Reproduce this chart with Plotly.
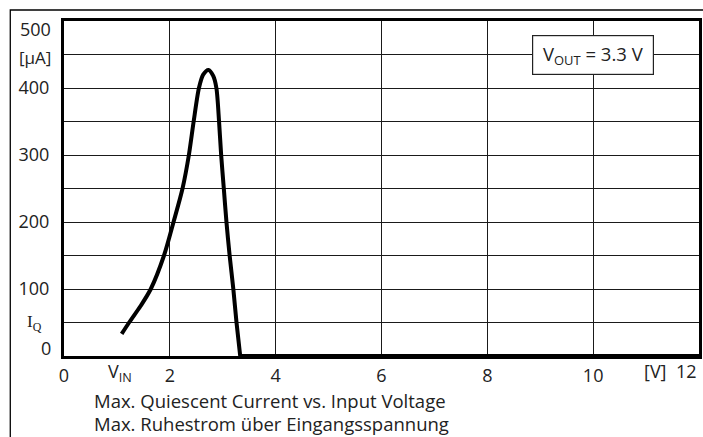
import plotly.graph_objects as go

# Data
curve_v = [1.09, 1.23, 1.45, 1.64, 1.89, 2.07, 2.24, 2.36, 2.45, 2.55, 2.63, 2.73,
           2.82, 2.88, 2.93, 2.97, 3.02, 3.07, 3.13, 3.20, 3.26, 3.33]
curve_i = [33, 50, 75, 100, 150, 200, 250, 300, 350, 400, 420, 427,
           418, 400, 350, 300, 250, 200, 150, 100, 50, 0]
flat_v = [3.33, 12]
flat_i = [0, 0]

x_tickvals = [0, 2, 4, 6, 8, 10]
x_ticktext = ["0", "2", "4", "6", "8", "10"]
y_tickvals = [100, 200, 300, 400]
y_ticktext = ["100", "200", "300", "400"]

FONT = "Open Sans"
TXT = "#222222"
GRID = "#1a1a1a"

fig = go.Figure()
fig.add_trace(go.Scatter(x=curve_v, y=curve_i, mode="lines",
                         line=dict(color="black", width=4, shape="spline", smoothing=0.8),
                         hoverinfo="skip", showlegend=False))
fig.add_trace(go.Scatter(x=flat_v, y=flat_i, mode="lines",
                         line=dict(color="black", width=4),
                         hoverinfo="skip", showlegend=False))

fig.update_layout(
    width=703, height=437, autosize=False,
    margin=dict(l=64, r=1, t=21, b=81),
    paper_bgcolor="white", plot_bgcolor="white",
    font=dict(family=FONT, size=18, color=TXT),
    showlegend=False,
)
fig.update_xaxes(range=[0, 12], tickvals=x_tickvals, ticktext=x_ticktext,
                 showgrid=True, gridcolor=GRID, gridwidth=1.3,
                 showline=True, linecolor="black", linewidth=3, mirror=True,
                 ticks="outside", ticklen=1, tickcolor="rgba(0,0,0,0)",
                 zeroline=False, fixedrange=True,
                 tickfont=dict(family=FONT, size=18, color=TXT))
fig.update_yaxes(range=[0, 500], tickvals=y_tickvals, ticktext=y_ticktext,
                 showgrid=True, gridcolor=GRID, gridwidth=1.3,
                 minor=dict(tick0=0, dtick=50, showgrid=True, gridcolor=GRID, gridwidth=1.3, ticks=""),
                 showline=True, linecolor="black", linewidth=3, mirror=True,
                 ticks="outside", ticklen=8, tickcolor="rgba(0,0,0,0)",
                 zeroline=False, fixedrange=True,
                 tickfont=dict(family=FONT, size=18, color=TXT))

# Outer frame
fig.add_shape(type="rect", xref="paper", yref="paper",
              x0=-0.0846, x1=1.5, y0=-0.5, y1=1.0328,
              line=dict(color="black", width=1.3), layer="below")

ann = []
# y-axis extra labels
ann.append(dict(x=0, y=500, xref="x", yref="y", text="500", showarrow=False,
                xanchor="right", xshift=-11, yshift=-8, font=dict(family=FONT, size=18, color=TXT)))
ann.append(dict(x=0, y=450, xref="x", yref="y", text="[µA]", showarrow=False,
                xanchor="right", xshift=-11, yshift=-3, font=dict(family=FONT, size=17, color=TXT)))
ann.append(dict(x=0, y=50, xref="x", yref="y", text="I<sub>Q</sub>", showarrow=False,
                xanchor="right", xshift=-20, yshift=0, font=dict(family="Liberation Serif", size=17, color=TXT)))
ann.append(dict(x=0, y=0, xref="x", yref="y", text="0", showarrow=False,
                xanchor="right", xshift=-11, yshift=8, font=dict(family=FONT, size=18, color=TXT)))
# x-axis extra labels
ann.append(dict(x=1.05, y=0, xref="x", yref="y", text="V<sub>IN</sub>", showarrow=False,
                yanchor="top", yshift=-1, font=dict(family=FONT, size=18, color=TXT)))
ann.append(dict(x=11.17, y=0, xref="x", yref="y", text="[V]", showarrow=False,
                yanchor="top", yshift=-1, font=dict(family=FONT, size=18, color=TXT)))
ann.append(dict(x=1.0, y=0, xref="paper", yref="y", text="12", showarrow=False,
                xanchor="right", yanchor="top", yshift=-1, font=dict(family=FONT, size=18, color=TXT)))
# caption (two lines)
ann.append(dict(x=(93 - 64) / 638, y=(356 - 400) / 335, xref="paper", yref="paper",
                text="Max. Quiescent Current vs. Input Voltage",
                showarrow=False, xanchor="left", yanchor="middle", align="left", borderpad=0,
                font=dict(family=FONT, size=18.5, color=TXT)))
ann.append(dict(x=(93 - 64) / 638, y=(356 - 423.5) / 335, xref="paper", yref="paper",
                text="Max. Ruhestrom über Eingangsspannung",
                showarrow=False, xanchor="left", yanchor="middle", align="left", borderpad=0,
                font=dict(family=FONT, size=18.5, color=TXT)))
# Vout box
ann.append(dict(x=10, y=450, xref="x", yref="y", text="&nbsp;V<sub>OUT</sub> = 3.3 V&nbsp;", showarrow=False,
                bgcolor="white", bordercolor="#222222", borderwidth=1.2, borderpad=5,
                font=dict(family=FONT, size=18.5, color=TXT)))
fig.update_layout(annotations=ann)

fig.write_html("out.html", config={"displayModeBar": False},
               post_script="document.body.style.margin='0px';document.body.style.overflow='hidden';")
